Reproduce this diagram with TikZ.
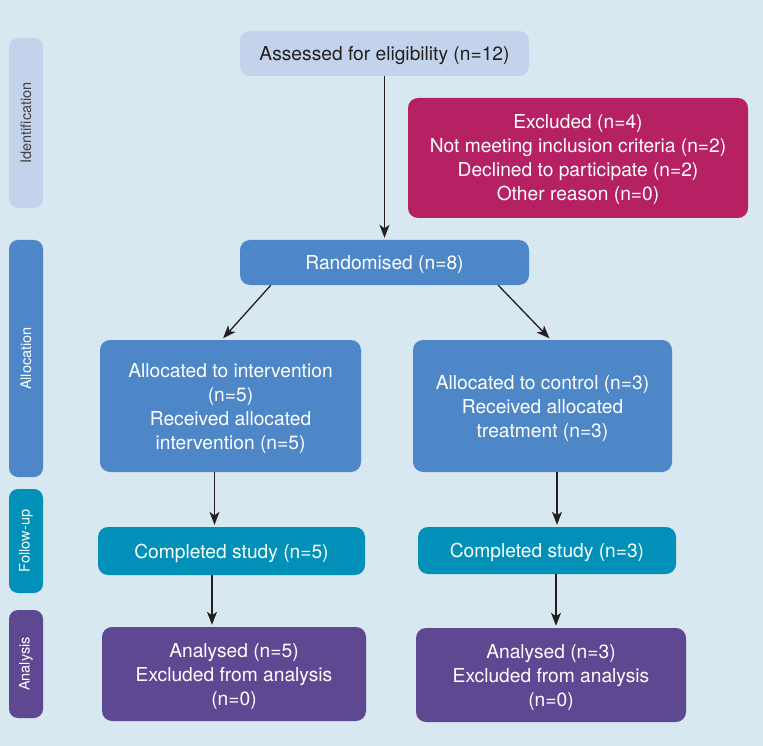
\documentclass[tikz,border=0pt]{standalone}
\usepackage{fontspec}
\setmainfont{TeX Gyre Heros}
\usetikzlibrary{arrows.meta}
\definecolor{flowbg}{RGB}{215,232,240}
\definecolor{idblue}{RGB}{195,211,236}
\definecolor{exclred}{RGB}{181,33,99}
\definecolor{allocblue}{RGB}{78,135,199}
\definecolor{followteal}{RGB}{1,144,184}
\definecolor{analysispurple}{RGB}{94,72,146}
\definecolor{darktext}{RGB}{35,31,32}

\begin{document}
\begin{tikzpicture}[x=1pt,y=-1pt,
  box/.style={rounded corners=10pt, align=center, inner sep=0pt, text=white, text depth=0pt,
    font=\fontsize{19.2}{24}\selectfont},
  sidebar/.style={rounded corners=9pt, rotate=90, minimum height=34pt, inner sep=0pt,
    text=white, font=\fontsize{14.5}{16}\selectfont},
  arrow/.style={-{Stealth[length=13pt,width=10pt,inset=3.5pt]}, line width=1.3pt, darktext, shorten >=2pt}]
% background
\fill[flowbg] (0,0) rectangle (763,746);

% stage bars on the left
\node[sidebar, fill=idblue, text=darktext!85, minimum width=170pt] (ident) at (26,123) {Identification};
\node[sidebar, fill=allocblue, minimum width=237pt] (alloc) at (26,358.5) {Allocation};
\node[sidebar, fill=followteal, minimum width=104pt] (follow) at (26,541) {Follow-up};
\node[sidebar, fill=analysispurple, minimum width=108pt] (analysis) at (26,664) {Analysis};

% enrolment
\node[box, fill=idblue, text=darktext, minimum width=289pt, minimum height=45pt] (assess) at (384.5,53.5) {Assessed for eligibility (n=12)};
\node[box, fill=exclred, minimum width=340pt, minimum height=120pt] (excl) at (578,158)
  {Excluded (n=4)\\Not meeting inclusion criteria (n=2)\\Declined to participate (n=2)\\Other reason (n=0)};
\node[box, fill=allocblue, minimum width=289pt, minimum height=45pt] (rand) at (384.5,262.5) {Randomised (n=8)};

% two arms
\node[box, fill=allocblue, minimum width=261pt, minimum height=132pt] (alloci) at (230.5,406)
  {Allocated to intervention\\(n=5)\\Received allocated\\intervention (n=5)};
\node[box, fill=allocblue, minimum width=259pt, minimum height=132pt] (allocc) at (542.5,406)
  {Allocated to control (n=3)\\Received allocated\\treatment (n=3)};
\node[box, fill=followteal, minimum width=267pt, minimum height=48pt] (compli) at (231.5,551) {Completed study (n=5)};
\node[box, fill=followteal, minimum width=258pt, minimum height=47pt] (complc) at (547,550.5) {Completed study (n=3)};
\node[box, fill=analysispurple, minimum width=264pt, minimum height=94pt] (anali) at (234,674)
  {Analysed (n=5)\\Excluded from analysis\\(n=0)};
\node[box, fill=analysispurple, minimum width=270pt, minimum height=94pt] (analc) at (551,675)
  {Analysed (n=3)\\Excluded from analysis\\(n=0)};

% connectors
\draw[arrow] (assess.south) -- (rand.north);
\draw[arrow] ([xshift=31pt]rand.south west) -- ([xshift=122pt]alloci.north west);
\draw[arrow] ([xshift=-31pt]rand.south east) -- ([xshift=138pt]allocc.north west);
\draw[arrow] ([xshift=-16pt]alloci.south) -- ([xshift=-16pt]alloci.south |- compli.north);
\draw[arrow] ([xshift=14.5pt]allocc.south) -- ([xshift=14.5pt]allocc.south |- complc.north);
\draw[arrow] ([xshift=-19.5pt]compli.south) -- ([xshift=-19.5pt]compli.south |- anali.north);
\draw[arrow] ([xshift=9pt]complc.south) -- ([xshift=9pt]complc.south |- analc.north);
\end{tikzpicture}
\end{document}
